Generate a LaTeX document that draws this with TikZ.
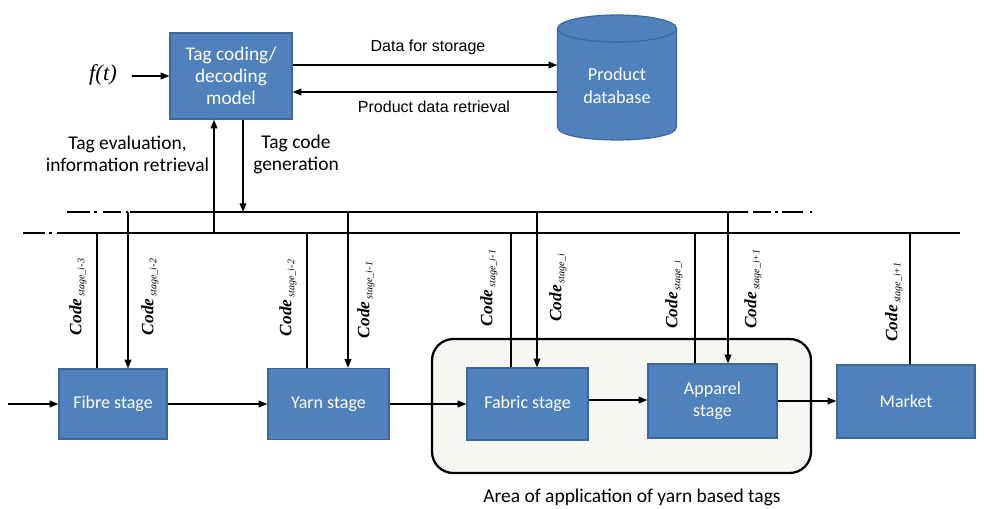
\documentclass[tikz,border=0pt]{standalone}
\usepackage{fontspec}
\setmainfont{Liberation Serif}
\newfontfamily\carl{Carlito}
\newfontfamily\arialf{Liberation Sans}
\usetikzlibrary{arrows.meta,calc}
\definecolor{boxblue}{HTML}{4F81BD}
\definecolor{boxedge}{HTML}{3B679A}
\definecolor{areafill}{HTML}{F7F6F2}
% rotated code label: bold italic "Code" with a small italic subscript
\newcommand{\codelab}[1]{{\fontsize{13}{14}\selectfont\bfseries\itshape Code}\,\raisebox{-2.2pt}{\fontsize{7.5}{8}\selectfont\itshape stage\_#1}}
\begin{document}
\begin{tikzpicture}[x=0.75pt,y=-0.75pt,
  bluebox/.style={draw=boxedge, line width=0.9pt, fill=boxblue, text=white,
    align=center, inner sep=0pt, font=\carl\fontsize{13.5}{16.5}\selectfont},
  arr/.style={-{Triangle[length=6.5pt,width=5pt]}, line width=1.1pt},
  bus/.style={line width=1.3pt},
  conn/.style={line width=1.1pt},
  lab/.style={font=\carl\fontsize{14.6}{16.5}\selectfont, inner sep=0pt, align=center},
  codetag/.style={rotate=90, inner sep=0pt},
]
\useasboundingbox (0,0) rectangle (984,508);

% area of application
\draw[line width=1.7pt, fill=areafill, rounded corners=16pt] (432,339) rectangle (811,473);
\node[font=\carl\fontsize{14.6}{16}\selectfont] (arealab) at (632,497) {Area of application of yarn based tags};

% tag coding / decoding model
\node[bluebox, minimum width=91.5pt, minimum height=64.5pt,
      font=\carl\fontsize{14.5}{16.5}\selectfont] (tag) at (231,76) {Tag coding/\\decoding\\model};
\node[font=\fontsize{17}{19}\selectfont\itshape] (ft) at (103,75) {f(t)};
\coordinate (ftout) at (132,76);
\draw[arr] (ftout) -- (tag.west);

% product database cylinder
\fill[boxblue] (557.5,28.5) -- (557.5,127) .. controls (557.5,144.3) and (676.5,144.3) .. (676.5,127) -- (676.5,28.5) -- cycle;
\draw[boxedge, line width=0.9pt] (557.5,28.5) -- (557.5,127) .. controls (557.5,144.3) and (676.5,144.3) .. (676.5,127) -- (676.5,28.5);
\draw[boxedge, line width=0.9pt, fill=boxblue] (617,28.5) ellipse [x radius=59.5, y radius=13.5];
\node[text=white, align=center, inner sep=0pt, minimum width=89.25pt,
      font=\carl\fontsize{13.7}{17}\selectfont] (db) at (617,86) {Product\\database};

\coordinate (st) at (0,65);
\coordinate (rt) at (0,92);
\draw[arr] (tag.east |- st) -- (db.west |- st);
\draw[arr] (db.west |- rt) -- (tag.east |- rt);
\node[font=\arialf\fontsize{12}{13}\selectfont] (storelab) at (428,47) {Data for storage};
\node[font=\arialf\fontsize{12}{13}\selectfont] (retrlab) at (434,107) {Product data retrieval};

% buses
\coordinate (ub) at (0,212);
\coordinate (lb) at (0,233);
\draw[bus] (130,212) -- (748,212);
\draw[bus] (67,212) -- (90,212) (94,212) -- (97,212) (103,212) -- (121,212) (126,212) -- (128,212);
\draw[bus] (753,212) -- (771,212) (775,212) -- (778,212) (782,212) -- (803,212) (810,212) -- (812,212);
\draw[bus] (57,233) -- (960,233);
\draw[bus] (23,233) -- (45,233) (49,233) -- (52,233);

% links between model and buses
\coordinate (tu) at (214,0);
\coordinate (td) at (243,0);
\draw[arr] (tu |- lb) -- (tu |- tag.south);
\draw[arr] (td |- tag.south) -- (td |- ub);
\node[lab] (evallab) at (127.5,154) {Tag evaluation,\\information retrieval};
\node[lab] (genlab) at (296,154) {Tag code\\generation};

% process stages
\node[bluebox, minimum width=81pt, minimum height=52.5pt] (fibre) at (113,404) {Fibre stage};
\node[bluebox, minimum width=90.75pt, minimum height=53.25pt] (yarn) at (328.5,404) {Yarn stage};
\node[bluebox, minimum width=90.75pt, minimum height=54pt] (fabric) at (527.5,404) {Fabric stage};
\node[bluebox, minimum width=96.75pt, minimum height=55.5pt] (apparel) at (712.5,401) {Apparel\\stage};
\node[bluebox, minimum width=103.5pt, minimum height=54.75pt] (market) at (906,401.5) {Market};

\coordinate (in) at (8,404);
\draw[arr] (in) -- (fibre.west);
\draw[arr] (fibre.east) -- (fibre.east -| yarn.west);
\draw[arr] (yarn.east) -- (yarn.east -| fabric.west);
\draw[arr] (fabric.east |- 0,400) -- (apparel.west |- 0,400);
\draw[arr] (apparel.east |- 0,401) -- (market.west |- 0,401);

% bus taps to the stages
\coordinate (f1) at (97,0);   \coordinate (f2) at (128,0);
\coordinate (y1) at (307,0);  \coordinate (y2) at (348,0);
\coordinate (b1) at (511,0);  \coordinate (b2) at (537,0);
\coordinate (a1) at (695,0);  \coordinate (a2) at (728,0);
\coordinate (m1) at (910,0);
\draw[conn] (f1 |- lb) -- (f1 |- fibre.north);
\draw[arr]  (f2 |- ub) -- (f2 |- fibre.north);
\draw[conn] (y1 |- lb) -- (y1 |- yarn.north);
\draw[arr]  (y2 |- ub) -- (y2 |- yarn.north);
\draw[conn] (b1 |- lb) -- (b1 |- fabric.north);
\draw[arr]  (b2 |- ub) -- (b2 |- fabric.north);
\draw[conn] (a1 |- lb) -- (a1 |- apparel.north);
\draw[arr]  (a2 |- ub) -- (a2 |- apparel.north);
\draw[conn] (m1 |- lb) -- (m1 |- market.north);

% code labels
\node[codetag] (c1) at (78,297) {\codelab{i-3}};
\node[codetag] (c2) at (150,297) {\codelab{i-2}};
\node[codetag] (c3) at (288,298) {\codelab{i-2}};
\node[codetag] (c4) at (366,300) {\codelab{i-1}};
\node[codetag] (c5) at (489,288) {\codelab{i-1}};
\node[codetag] (c6) at (558,288) {\codelab{i}};
\node[codetag] (c7) at (674,295) {\codelab{i}};
\node[codetag] (c8) at (753,289) {\codelab{i+1}};
\node[codetag] (c9) at (894,302) {\codelab{i+1}};
\end{tikzpicture}
\end{document}
